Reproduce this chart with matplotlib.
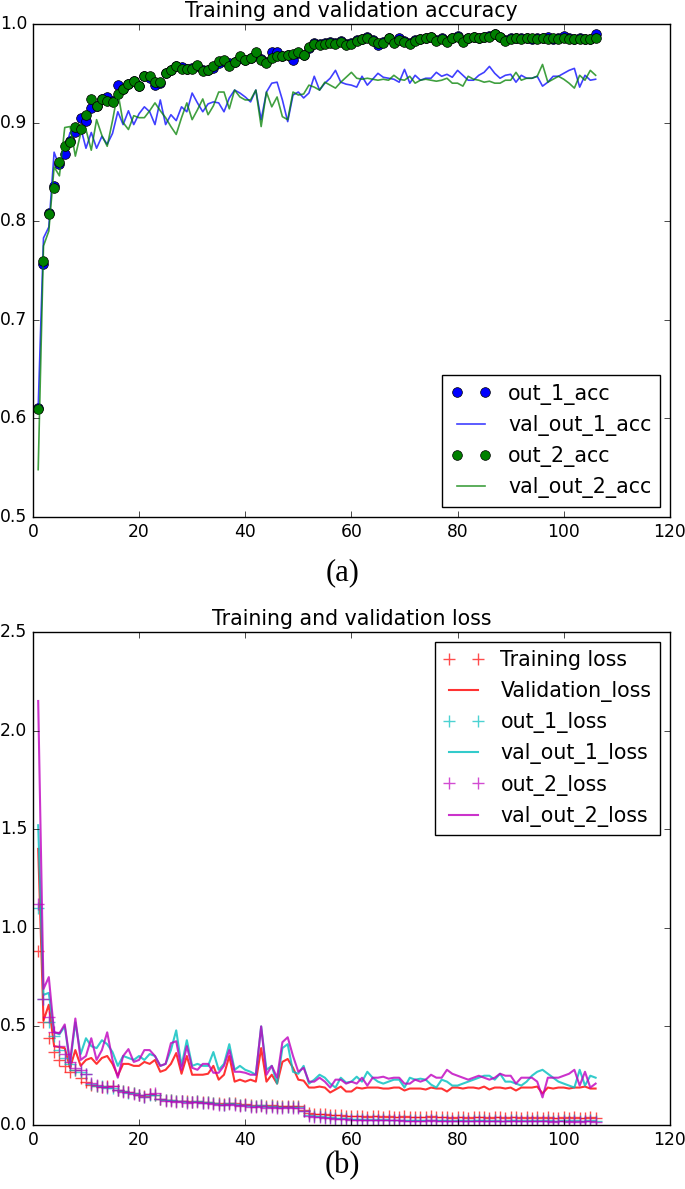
import numpy as np
import matplotlib
matplotlib.use("Agg")
import matplotlib.pyplot as plt

plt.style.use("classic")

epochs = np.arange(1, 107)

out_1_acc = [
    0.611, 0.757, 0.808, 0.836, 0.858, 0.868, 0.881, 0.890, 0.905, 0.902,
    0.915, 0.917, 0.924, 0.926, 0.922, 0.938, 0.934, 0.939, 0.942, 0.937,
    0.947, 0.945, 0.938, 0.940, 0.950, 0.953, 0.957, 0.956, 0.954, 0.955,
    0.957, 0.953, 0.953, 0.955, 0.960, 0.962, 0.960, 0.961, 0.966, 0.964,
    0.966, 0.970, 0.965, 0.961, 0.972, 0.972, 0.968, 0.969, 0.963, 0.971,
    0.969, 0.976, 0.981, 0.980, 0.981, 0.982, 0.981, 0.983, 0.980, 0.981,
    0.984, 0.985, 0.987, 0.984, 0.979, 0.982, 0.986, 0.982, 0.986, 0.983,
    0.981, 0.984, 0.985, 0.986, 0.987, 0.984, 0.986, 0.983, 0.986, 0.988,
    0.983, 0.986, 0.987, 0.986, 0.987, 0.988, 0.990, 0.987, 0.984, 0.986,
    0.986, 0.986, 0.986, 0.985, 0.986, 0.986, 0.987, 0.985, 0.986, 0.988,
    0.986, 0.985, 0.986, 0.985, 0.985, 0.990]
val_out_1_acc = [
    0.611, 0.783, 0.794, 0.870, 0.855, 0.870, 0.890, 0.888, 0.895, 0.874,
    0.890, 0.874, 0.886, 0.878, 0.889, 0.911, 0.898, 0.912, 0.898, 0.909,
    0.916, 0.911, 0.898, 0.923, 0.898, 0.908, 0.902, 0.916, 0.911, 0.930,
    0.920, 0.911, 0.919, 0.921, 0.920, 0.911, 0.925, 0.933, 0.930, 0.926,
    0.921, 0.933, 0.903, 0.931, 0.940, 0.941, 0.923, 0.901, 0.928, 0.931,
    0.925, 0.930, 0.947, 0.933, 0.940, 0.945, 0.953, 0.941, 0.939, 0.938,
    0.936, 0.947, 0.938, 0.944, 0.950, 0.946, 0.945, 0.944, 0.941, 0.954,
    0.940, 0.948, 0.943, 0.945, 0.945, 0.951, 0.947, 0.949, 0.946, 0.953,
    0.948, 0.943, 0.943, 0.948, 0.951, 0.957, 0.950, 0.945, 0.948, 0.949,
    0.941, 0.948, 0.945, 0.945, 0.947, 0.937, 0.941, 0.947, 0.947, 0.950,
    0.953, 0.955, 0.936, 0.948, 0.943, 0.944]
out_2_acc = [
    0.610, 0.760, 0.807, 0.834, 0.860, 0.876, 0.880, 0.896, 0.894, 0.908,
    0.924, 0.917, 0.924, 0.922, 0.921, 0.929, 0.934, 0.939, 0.942, 0.937,
    0.947, 0.947, 0.941, 0.941, 0.950, 0.953, 0.957, 0.954, 0.954, 0.954,
    0.958, 0.952, 0.953, 0.957, 0.962, 0.963, 0.957, 0.961, 0.968, 0.964,
    0.966, 0.972, 0.964, 0.960, 0.966, 0.968, 0.968, 0.969, 0.970, 0.972,
    0.969, 0.977, 0.980, 0.979, 0.980, 0.981, 0.980, 0.982, 0.979, 0.980,
    0.983, 0.985, 0.986, 0.983, 0.981, 0.981, 0.986, 0.981, 0.984, 0.982,
    0.980, 0.983, 0.985, 0.986, 0.987, 0.983, 0.985, 0.982, 0.986, 0.987,
    0.982, 0.986, 0.987, 0.986, 0.987, 0.987, 0.990, 0.987, 0.983, 0.985,
    0.986, 0.985, 0.986, 0.986, 0.985, 0.986, 0.985, 0.986, 0.985, 0.986,
    0.985, 0.985, 0.985, 0.985, 0.985, 0.986]
val_out_2_acc = [
    0.548, 0.775, 0.790, 0.855, 0.846, 0.895, 0.896, 0.866, 0.889, 0.893,
    0.872, 0.903, 0.887, 0.876, 0.902, 0.931, 0.900, 0.893, 0.907, 0.905,
    0.905, 0.912, 0.920, 0.912, 0.905, 0.896, 0.888, 0.905, 0.920, 0.903,
    0.913, 0.924, 0.908, 0.917, 0.931, 0.931, 0.914, 0.933, 0.926, 0.923,
    0.923, 0.933, 0.896, 0.931, 0.916, 0.926, 0.906, 0.903, 0.931, 0.928,
    0.929, 0.938, 0.936, 0.933, 0.941, 0.938, 0.935, 0.941, 0.946, 0.951,
    0.945, 0.944, 0.945, 0.944, 0.943, 0.944, 0.943, 0.948, 0.944, 0.943,
    0.947, 0.940, 0.943, 0.944, 0.943, 0.942, 0.943, 0.945, 0.940, 0.940,
    0.937, 0.947, 0.944, 0.943, 0.941, 0.942, 0.940, 0.940, 0.943, 0.943,
    0.951, 0.943, 0.945, 0.945, 0.947, 0.959, 0.941, 0.944, 0.947, 0.944,
    0.940, 0.935, 0.948, 0.943, 0.953, 0.948]

train_loss = [
    0.880, 0.520, 0.440, 0.370, 0.330, 0.300, 0.270, 0.280, 0.240, 0.220,
    0.205, 0.200, 0.195, 0.200, 0.200, 0.180, 0.175, 0.165, 0.160, 0.150,
    0.145, 0.155, 0.150, 0.130, 0.125, 0.125, 0.120, 0.120, 0.120, 0.115,
    0.120, 0.115, 0.115, 0.110, 0.110, 0.105, 0.110, 0.110, 0.100, 0.105,
    0.100, 0.095, 0.100, 0.095, 0.100, 0.095, 0.095, 0.095, 0.095, 0.095,
    0.075, 0.060, 0.055, 0.055, 0.055, 0.050, 0.050, 0.050, 0.045, 0.045,
    0.045, 0.045, 0.040, 0.045, 0.045, 0.040, 0.045, 0.040, 0.040, 0.045,
    0.040, 0.040, 0.040, 0.040, 0.045, 0.040, 0.040, 0.040, 0.035, 0.040,
    0.040, 0.035, 0.040, 0.040, 0.040, 0.035, 0.040, 0.040, 0.035, 0.040,
    0.040, 0.035, 0.040, 0.035, 0.040, 0.035, 0.040, 0.035, 0.035, 0.040,
    0.035, 0.040, 0.035, 0.035, 0.040, 0.035]
val_loss = [
    1.400, 0.530, 0.610, 0.400, 0.395, 0.390, 0.290, 0.380, 0.300, 0.330,
    0.340, 0.310, 0.340, 0.350, 0.310, 0.250, 0.310, 0.310, 0.300, 0.300,
    0.320, 0.310, 0.330, 0.270, 0.280, 0.310, 0.365, 0.260, 0.350, 0.255,
    0.255, 0.255, 0.260, 0.300, 0.230, 0.255, 0.350, 0.220, 0.230, 0.220,
    0.230, 0.220, 0.390, 0.220, 0.255, 0.210, 0.320, 0.335, 0.290, 0.230,
    0.225, 0.190, 0.190, 0.195, 0.190, 0.165, 0.180, 0.195, 0.170, 0.170,
    0.190, 0.185, 0.190, 0.190, 0.190, 0.185, 0.185, 0.190, 0.190, 0.175,
    0.185, 0.185, 0.185, 0.180, 0.190, 0.185, 0.185, 0.170, 0.190, 0.190,
    0.185, 0.190, 0.190, 0.185, 0.195, 0.180, 0.190, 0.190, 0.185, 0.190,
    0.175, 0.190, 0.190, 0.190, 0.195, 0.160, 0.190, 0.185, 0.190, 0.190,
    0.185, 0.190, 0.190, 0.195, 0.185, 0.185]
out_1_loss = [
    1.100, 0.640, 0.520, 0.450, 0.380, 0.340, 0.310, 0.280, 0.270, 0.260,
    0.210, 0.200, 0.200, 0.190, 0.190, 0.180, 0.175, 0.160, 0.160, 0.150,
    0.140, 0.150, 0.150, 0.130, 0.125, 0.125, 0.120, 0.120, 0.115, 0.115,
    0.120, 0.110, 0.115, 0.110, 0.105, 0.100, 0.110, 0.105, 0.100, 0.100,
    0.095, 0.095, 0.100, 0.090, 0.095, 0.090, 0.090, 0.090, 0.090, 0.090,
    0.070, 0.050, 0.045, 0.045, 0.040, 0.040, 0.035, 0.035, 0.035, 0.030,
    0.030, 0.030, 0.028, 0.030, 0.028, 0.030, 0.028, 0.027, 0.028, 0.025,
    0.025, 0.025, 0.025, 0.025, 0.027, 0.025, 0.024, 0.025, 0.022, 0.025,
    0.024, 0.022, 0.024, 0.024, 0.023, 0.022, 0.024, 0.022, 0.022, 0.024,
    0.024, 0.022, 0.024, 0.022, 0.023, 0.022, 0.024, 0.021, 0.022, 0.023,
    0.021, 0.023, 0.021, 0.022, 0.023, 0.021]
val_out_1_loss = [
    1.520, 0.660, 0.670, 0.470, 0.460, 0.500, 0.310, 0.520, 0.360, 0.440,
    0.400, 0.390, 0.430, 0.410, 0.370, 0.300, 0.350, 0.340, 0.330, 0.350,
    0.330, 0.360, 0.350, 0.300, 0.310, 0.380, 0.480, 0.300, 0.430, 0.300,
    0.310, 0.300, 0.300, 0.370, 0.280, 0.310, 0.410, 0.280, 0.300, 0.280,
    0.270, 0.255, 0.500, 0.280, 0.300, 0.210, 0.390, 0.410, 0.270, 0.260,
    0.300, 0.210, 0.230, 0.255, 0.240, 0.210, 0.190, 0.240, 0.215, 0.220,
    0.245, 0.220, 0.270, 0.240, 0.220, 0.210, 0.220, 0.230, 0.230, 0.190,
    0.240, 0.230, 0.235, 0.230, 0.205, 0.190, 0.230, 0.220, 0.200, 0.200,
    0.210, 0.220, 0.230, 0.240, 0.250, 0.250, 0.230, 0.260, 0.220, 0.220,
    0.210, 0.200, 0.220, 0.250, 0.270, 0.280, 0.260, 0.240, 0.220, 0.210,
    0.200, 0.190, 0.280, 0.200, 0.250, 0.240]
out_2_loss = [
    1.120, 0.640, 0.550, 0.470, 0.400, 0.360, 0.320, 0.290, 0.280, 0.260,
    0.215, 0.205, 0.195, 0.195, 0.200, 0.180, 0.170, 0.165, 0.155, 0.150,
    0.140, 0.155, 0.160, 0.130, 0.120, 0.120, 0.115, 0.120, 0.110, 0.115,
    0.115, 0.110, 0.110, 0.105, 0.100, 0.100, 0.105, 0.100, 0.095, 0.100,
    0.090, 0.090, 0.095, 0.085, 0.090, 0.085, 0.085, 0.090, 0.085, 0.085,
    0.072, 0.045, 0.040, 0.040, 0.035, 0.035, 0.030, 0.030, 0.030, 0.027,
    0.027, 0.026, 0.025, 0.026, 0.024, 0.025, 0.024, 0.023, 0.024, 0.022,
    0.022, 0.021, 0.022, 0.021, 0.023, 0.021, 0.020, 0.021, 0.019, 0.021,
    0.020, 0.019, 0.020, 0.020, 0.019, 0.018, 0.020, 0.018, 0.019, 0.020,
    0.020, 0.018, 0.019, 0.018, 0.019, 0.018, 0.020, 0.017, 0.018, 0.019,
    0.017, 0.019, 0.017, 0.018, 0.019, 0.017]
val_out_2_loss = [
    2.150, 0.690, 0.750, 0.470, 0.465, 0.510, 0.320, 0.540, 0.330, 0.350,
    0.440, 0.330, 0.380, 0.470, 0.330, 0.240, 0.350, 0.385, 0.320, 0.330,
    0.380, 0.380, 0.350, 0.300, 0.310, 0.415, 0.425, 0.280, 0.400, 0.290,
    0.280, 0.310, 0.310, 0.265, 0.265, 0.300, 0.380, 0.270, 0.270, 0.265,
    0.255, 0.255, 0.500, 0.255, 0.300, 0.240, 0.420, 0.445, 0.350, 0.270,
    0.290, 0.220, 0.220, 0.240, 0.220, 0.190, 0.230, 0.230, 0.210, 0.220,
    0.210, 0.240, 0.200, 0.240, 0.240, 0.245, 0.235, 0.240, 0.240, 0.210,
    0.210, 0.230, 0.220, 0.230, 0.255, 0.240, 0.240, 0.280, 0.260, 0.250,
    0.240, 0.230, 0.240, 0.250, 0.240, 0.230, 0.240, 0.260, 0.250, 0.250,
    0.210, 0.240, 0.240, 0.240, 0.220, 0.140, 0.240, 0.240, 0.240, 0.250,
    0.260, 0.280, 0.200, 0.270, 0.190, 0.210]

fig = plt.figure(figsize=(6.85, 11.89), dpi=100, facecolor="white")

# (a) accuracy
ax1 = fig.add_axes([0.048, 0.5652, 0.930, 0.4146])
ax1.plot(epochs, out_1_acc, "bo", ms=7, mec="k", mew=0.5, label="out_1_acc")
ax1.plot(epochs, val_out_1_acc, "b", alpha=0.75, lw=1.2, label="val_out_1_acc")
ax1.plot(epochs, out_2_acc, "go", ms=7, mec="k", mew=0.5, label="out_2_acc")
ax1.plot(epochs, val_out_2_acc, "g", alpha=0.75, lw=1.2, label="val_out_2_acc")
ax1.set_title("Training and validation accuracy", fontsize=14.8)
ax1.set_xlim(0, 120)
ax1.set_ylim(0.5, 1.0)
ax1.legend(loc="lower right", numpoints=2, fontsize=14.8)

# (b) loss
ax2 = fig.add_axes([0.048, 0.0538, 0.930, 0.4147])
ax2.plot(epochs, train_loss, "r+", ms=8, mew=1, alpha=0.7, label="Training loss")
ax2.plot(epochs, val_loss, "r", alpha=0.8, lw=1.5, label="Validation_loss")
ax2.plot(epochs, out_1_loss, "c+", ms=8, mew=1, alpha=0.7, label="out_1_loss")
ax2.plot(epochs, val_out_1_loss, "c", alpha=0.8, lw=1.5, label="val_out_1_loss")
ax2.plot(epochs, out_2_loss, "m+", ms=8, mew=1, alpha=0.7, label="out_2_loss")
ax2.plot(epochs, val_out_2_loss, "m", alpha=0.8, lw=1.5, label="val_out_2_loss")
ax2.set_title("Training and validation loss", fontsize=14.8)
ax2.set_xlim(0, 120)
ax2.set_ylim(0, 2.5)
ax2.legend(loc="upper right", numpoints=2, fontsize=14.8)

for ax in (ax1, ax2):
    ax.tick_params(labelsize=12.3)

fig.text(0.5, 0.518, "(a)", ha="center", va="center",
         family="Liberation Serif", fontsize=22)
fig.text(0.5, 0.020, "(b)", ha="center", va="center",
         family="Liberation Serif", fontsize=22)

fig.savefig("out.png", dpi=100, facecolor="white")
